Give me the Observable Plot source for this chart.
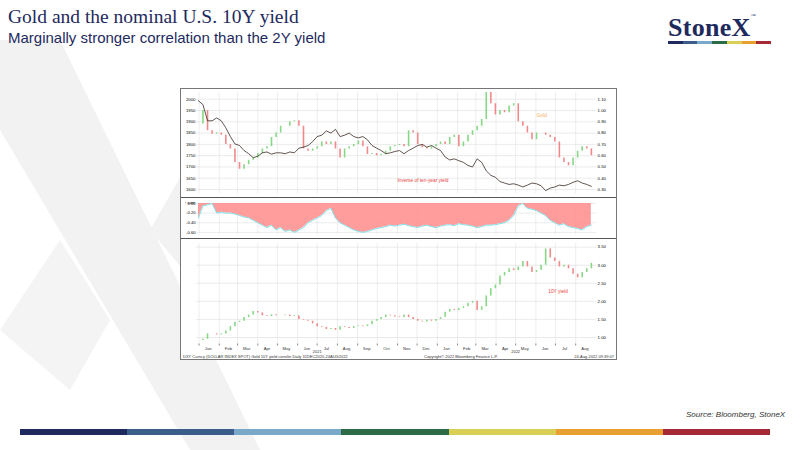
<!DOCTYPE html>
<html><head><meta charset="utf-8">
<script src="https://cdn.jsdelivr.net/npm/d3@7"></script>
<script src="https://cdn.jsdelivr.net/npm/@observablehq/plot@0.6"></script>
<style>
body{margin:0;width:800px;height:450px;position:relative;overflow:hidden;background:#fff;font-family:"Liberation Sans",Arial,sans-serif}
.abs{position:absolute}
#frame{left:180px;top:88px;width:437px;height:272px;border:1px solid #777;background:#fff;box-sizing:border-box}
#frame svg{display:block}
</style></head><body>
<svg class="abs" style="left:0;top:0" width="800" height="450">
<polygon points="0,40 60,40 260,450 190,450 0,130" fill="#f2f2f2"/>
<polygon points="150,230 230,90 300,90 200,290" fill="#f2f2f2"/>
<polygon points="0,330 60,240 110,320 70,390" fill="#f4f4f4"/>
</svg>
<div class="abs" style="left:8px;top:6px;font-family:'Liberation Serif',serif;font-size:19.5px;color:#1e2a5e">Gold and the nominal U.S. 10Y yield</div>
<div class="abs" style="left:8px;top:29px;font-size:15px;color:#1e2a5e">Marginally stronger correlation than the 2Y yield</div>
<div class="abs" style="left:668px;top:13px;font-family:'Liberation Serif',serif;font-weight:bold;font-size:26px;color:#1e2a5e;letter-spacing:0.3px">StoneX<span style="font-size:5px;vertical-align:top;font-weight:normal">™</span></div>
<div class="abs" style="left:668px;top:41px;width:103px;height:3px;display:flex">
<div style="flex:1;background:#1e2a5e"></div><div style="flex:1;background:#3a5d8c"></div><div style="flex:1;background:#7aa8c8"></div><div style="flex:1;background:#2c6b4a"></div><div style="flex:1;background:#d9cf55"></div><div style="flex:1;background:#e8a030"></div><div style="flex:1;background:#a52a35"></div></div>
<div class="abs" style="left:686px;top:410px;font-size:8px;font-style:italic;color:#333">Source: Bloomberg, StoneX</div>
<div class="abs" style="left:20px;top:429px;width:750px;height:6px;display:flex">
<div style="flex:1;background:#1e2a5e"></div><div style="flex:1;background:#3a5d8c"></div><div style="flex:1;background:#7aa8c8"></div><div style="flex:1;background:#2c6b4a"></div><div style="flex:1;background:#d9cf55"></div><div style="flex:1;background:#e8a030"></div><div style="flex:1;background:#a52a35"></div></div>
<div id="frame" class="abs"></div>
<script>
const startDate = "2020-12-31";
const gold = [
1890,1950,1860,1845,1850,1840,1800,1780,1720,1690,
1710,1730,1740,1760,1780,1790,1830,1850,1880,1880,
1900,1905,1880,1780,1770,1780,1790,1810,1800,1810,
1780,1740,1780,1790,1800,1815,1790,1755,1760,1750,
1755,1770,1790,1795,1800,1790,1860,1850,1800,1785,
1780,1790,1800,1810,1800,1830,1840,1790,1810,1840,
1860,1880,1910,2040,1980,1930,1950,1940,1970,1980,
1900,1880,1850,1820,1850,1850,1840,1830,1810,1740,
1720,1705,1740,1770,1790,1780,1750];
const yield10 = [
0.92,0.95,1.10,1.10,1.07,1.10,1.18,1.30,1.42,1.45,
1.55,1.62,1.72,1.68,1.60,1.58,1.63,1.60,1.60,1.62,
1.58,1.60,1.50,1.48,1.45,1.38,1.30,1.28,1.22,1.25,
1.20,1.30,1.28,1.25,1.30,1.32,1.30,1.35,1.45,1.50,
1.55,1.62,1.60,1.57,1.55,1.62,1.55,1.50,1.45,1.43,
1.48,1.45,1.50,1.55,1.70,1.78,1.75,1.80,1.85,1.95,
2.00,1.75,1.85,2.15,2.35,2.45,2.70,2.80,2.90,2.85,
2.95,3.10,2.95,2.80,2.85,3.00,3.45,3.20,3.10,2.95,
3.00,2.90,2.75,2.65,2.80,2.90,3.05];
const corr = [
-0.30,-0.05,-0.03,0.00,-0.20,-0.18,-0.20,-0.20,-0.22,-0.25,
-0.28,-0.30,-0.35,-0.40,-0.45,-0.50,-0.45,-0.55,-0.50,-0.58,
-0.55,-0.60,-0.55,-0.50,-0.40,-0.35,-0.30,-0.25,-0.15,-0.10,
-0.30,-0.40,-0.45,-0.50,-0.55,-0.58,-0.60,-0.58,-0.55,-0.52,
-0.50,-0.48,-0.45,-0.47,-0.45,-0.43,-0.46,-0.48,-0.50,-0.47,
-0.45,-0.48,-0.50,-0.47,-0.45,-0.44,-0.46,-0.42,-0.44,-0.45,
-0.47,-0.50,-0.48,-0.45,-0.45,-0.44,-0.42,-0.40,-0.35,-0.25,
-0.05,0.00,-0.10,-0.12,-0.15,-0.20,-0.25,-0.35,-0.40,-0.45,
-0.42,-0.48,-0.50,-0.52,-0.55,-0.48,-0.45];
const goldTicks = [1600,1650,1700,1750,1800,1850,1900,1950,2000];
const invTicks = [0.30,0.40,0.50,0.60,0.70,0.80,0.90,1.00,1.10];
const corrTicks = [0.00,-0.20,-0.40,-0.60];
const yieldTicks = [1.00,1.50,2.00,2.50,3.00,3.50];
const monthLabels = ["Jan","Feb","Mar","Apr","May","Jun","Jul","Aug","Sep","Oct","Nov","Dec","Jan","Feb","Mar","Apr","May","Jun","Jul","Aug"];

const t0 = new Date(startDate);
const rows = gold.map((g,i)=>({date:d3.utcDay.offset(t0,7*i),gold:g,y:yield10[i],inv:1/yield10[i],corr:corr[i]}));
rows.forEach((r,i)=>{const p=rows[i-1]||r;r.g0=p.gold;r.y0=p.y;r.gUp=r.gold>=p.gold;r.yUp=r.y>=p.y;});
const xDom=[new Date("2020-12-28"),new Date("2022-09-02")];
const months=d3.utcMonth.range(new Date("2021-01-01"),new Date("2022-09-01"));
const mids=months.map((m,i)=>({d:new Date(+m+14*864e5),l:monthLabels[i]}));
const W=437, ML=15, MR=20;
const inv2g = v=>1600+(v-0.30)*500;
const common={width:W,marginLeft:ML,marginRight:MR,style:{fontSize:"4.5px",fontFamily:"Liberation Sans, Arial",background:"transparent"},x:{domain:xDom,axis:null}};
const green="#86d886", red="#f08a8a";
const f=document.getElementById("frame");

const p1=Plot.plot({...common,height:108,marginTop:3,marginBottom:3,
 y:{domain:[1580,2030],axis:null},
 marks:[
  Plot.ruleX(months,{stroke:"#ddd",strokeWidth:0.5}),
  Plot.ruleY(goldTicks,{stroke:"#ddd",strokeWidth:0.6}),
  Plot.axisY(goldTicks,{anchor:"left",tickSize:0,tickPadding:1,fontSize:4.3,tickFormat:d=>String(d)}),
  Plot.axisY(invTicks.map(inv2g),{anchor:"right",tickSize:0,tickPadding:1,fontSize:4.3,tickFormat:d=>((d-1600)/500+0.30).toFixed(2)}),
  Plot.ruleX(rows,{x:"date",y1:"g0",y2:"gold",stroke:d=>d.gUp?green:red,strokeWidth:1.6,clip:true}),
  Plot.lineY(rows,{x:"date",y:d=>inv2g(d.inv),stroke:"#3a2a22",strokeWidth:0.8,clip:true}),
  Plot.text(["Gold"],{x:new Date("2022-06-10"),y:1930,text:d=>d,fill:"#f4b060",fontSize:5}),
  Plot.text(["Inverse of ten-year yield"],{x:new Date("2021-12-10"),y:1640,text:d=>d,fill:"#e84040",fontSize:4.8})
 ]});
const p2=Plot.plot({...common,height:41,marginTop:5,marginBottom:4,
 y:{domain:[-0.66,0.0],axis:null},
 marks:[
  Plot.ruleX(months,{stroke:"#ddd",strokeWidth:0.5}),
  Plot.ruleY(corrTicks,{stroke:"#ddd",strokeWidth:0.6}),
  Plot.areaY(rows,{x:"date",y1:0,y2:"corr",fill:"#ff8c8c",fillOpacity:0.85}),
  Plot.lineY(rows,{x:"date",y:"corr",stroke:"#7fe0e8",strokeWidth:1}),
  Plot.axisY(corrTicks,{anchor:"left",tickSize:0,tickPadding:1,fontSize:4.2,tickFormat:d=>d.toFixed(2)})
 ]});
const p3=Plot.plot({...common,height:116,marginTop:4,marginBottom:11,
 y:{domain:[0.82,3.6],axis:null},
 marks:[
  Plot.ruleX(months,{stroke:"#ddd",strokeWidth:0.5}),
  Plot.ruleY(yieldTicks,{stroke:"#ddd",strokeWidth:0.6}),
  Plot.axisY(yieldTicks,{anchor:"right",tickSize:0,tickPadding:1,fontSize:4.3,tickFormat:d=>d.toFixed(2)}),
  Plot.ruleX(rows,{x:"date",y1:"y0",y2:"y",stroke:d=>d.yUp?green:red,strokeWidth:1.6}),
  Plot.text(["10Y yield"],{x:new Date("2022-07-05"),y:2.27,text:d=>d,fill:"#e84040",fontSize:4.8}),
  Plot.axisX(months,{anchor:"bottom",tickSize:2,tickFormat:()=>"",stroke:"#888"}),
  Plot.text(mids,{x:"d",y:0.82,dy:4.3,text:"l",fontSize:4.2,fill:"#333"}),
  Plot.text([{d:new Date("2021-07-01"),l:"2021"},{d:new Date("2022-05-01"),l:"2022"}],{x:"d",y:0.82,dy:8.2,text:"l",fontSize:4,fill:"#333"})
 ]});
f.append(p1);
const sep=()=>{const d=document.createElement("div");d.style.cssText="height:1px;background:#555";return d;};
f.append(sep()); f.append(p2); f.append(sep()); f.append(p3);
const foot=document.createElement("div");
foot.style.cssText="position:absolute;left:2px;right:2px;bottom:0px;font-size:4px;line-height:4.5px;color:#333;display:flex;justify-content:space-between";
foot.innerHTML="<span>DXY Curncy (DOLLAR INDEX SPOT) Gold 10Y yield correlin  Daily 31DEC2020-24AUG2022</span><span>Copyright© 2022 Bloomberg Finance L.P.</span><span>24-Aug-2022 09:39:07</span>";
f.append(foot);
</script>
</body></html>
